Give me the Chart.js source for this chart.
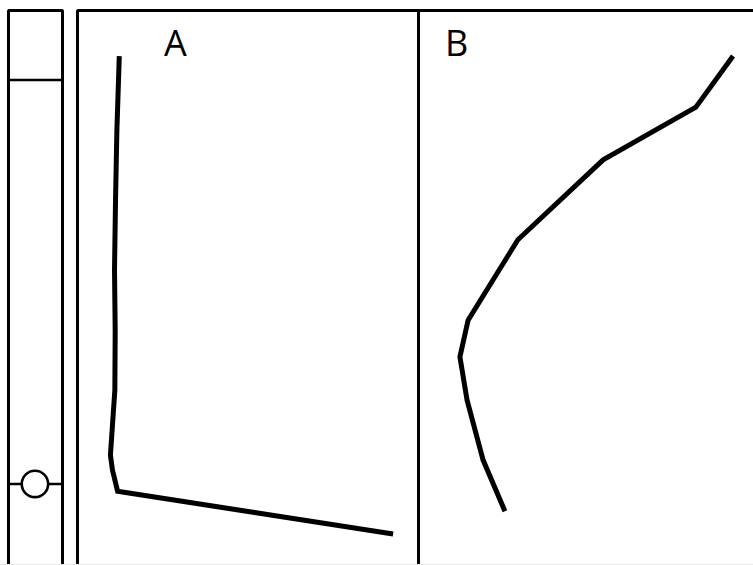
<!DOCTYPE html>
<html>
<head>
<meta charset="utf-8">
<script src="https://cdn.jsdelivr.net/npm/chart.js@4"></script>
<style>
  html, body { margin: 0; padding: 0; background: #fff; width: 753px; height: 565px; overflow: hidden; }
  .abs { position: absolute; }
  .frame { position: absolute; box-sizing: border-box; border: 3px solid #000; border-bottom: none; border-radius: 3px 3px 0 0; }
  .lbl { position: absolute; font-family: "Open Sans", sans-serif; font-size: 36px; line-height: 36px; color: #000; }
  canvas { position: absolute; }
</style>
</head>
<body>
<div class="frame" style="left:7px; top:9px; width:57px; height:560px;"></div>
<div class="frame" style="left:76px; top:9px; width:700px; height:560px;"></div>
<div class="abs" style="left:417px; top:9px; width:3px; height:560px; background:#000;"></div>
<div class="abs" style="left:0; top:564px; width:753px; height:1px; background:#e8e8e8;"></div>
<div class="lbl" style="left:164px; top:25px;">A</div>
<div class="lbl" style="left:445px; top:25px;">B</div>

<canvas id="cL" width="55" height="555" style="left:8px; top:10px;"></canvas>
<canvas id="cA" width="341" height="555" style="left:77px; top:10px;"></canvas>
<canvas id="cB" width="341" height="555" style="left:419px; top:10px;"></canvas>

<script>
// ---- data (x in panel units 0..100, depth in units 0..100 from top) ----
const waterTableDepth = 12.6;
const sensorDepth = 85.4;
const sensorX = 49;

const profileA_x     = [12.4, 11.7, 11.3, 11.0, 11.2, 11.1, 10.3, 9.8, 10.4, 11.9, 92.7];
const profileA_depth = [8.3, 21.6, 34.2, 46.8, 57.7, 68.5, 75.7, 80.2, 82.9, 86.7, 94.4];

const profileB_x     = [92.1, 81.2, 54.0, 29.0, 14.4, 12.0, 14.1, 18.8, 25.2];
const profileB_depth = [8.3, 17.5, 27.0, 41.4, 55.9, 62.5, 70.3, 81.1, 90.3];

const panelLabels = ['A', 'B'];

function pts(xs, ds) { return xs.map((x, i) => ({ x: x, y: ds[i] })); }

function scales() {
  return {
    x: { type: 'linear', min: 0, max: 100, display: false },
    y: { type: 'linear', min: 0, max: 100, reverse: true, display: false }
  };
}

const common = {
  responsive: false,
  animation: false,
  devicePixelRatio: 1,
  layout: { padding: 0, autoPadding: false },
  plugins: { legend: { display: false }, tooltip: { enabled: false } },
  events: []
};

function lineDs(data, width) {
  return {
    type: 'line', data: data, showLine: true, borderColor: '#000', borderWidth: width,
    pointRadius: 0, fill: false, tension: 0, clip: false,
    borderCapStyle: 'butt', borderJoinStyle: 'miter'
  };
}

// Left column panel
new Chart(document.getElementById('cL'), {
  type: 'scatter',
  data: {
    datasets: [
      { type: 'scatter', data: [{ x: sensorX, y: sensorDepth }], pointRadius: 13.2, pointBorderWidth: 2.6,
        pointBackgroundColor: '#fff', pointBorderColor: '#000', clip: false },
      lineDs([{ x: 0, y: sensorDepth }, { x: 100, y: sensorDepth }], 2.6),
      lineDs([{ x: 0, y: waterTableDepth }, { x: 100, y: waterTableDepth }], 2.6)
    ]
  },
  options: Object.assign({}, common, { scales: scales() })
});

// Panel A
new Chart(document.getElementById('cA'), {
  type: 'scatter',
  data: { datasets: [ lineDs(pts(profileA_x, profileA_depth), 5) ] },
  options: Object.assign({}, common, { scales: scales() })
});

// Panel B
new Chart(document.getElementById('cB'), {
  type: 'scatter',
  data: { datasets: [ lineDs(pts(profileB_x, profileB_depth), 5) ] },
  options: Object.assign({}, common, { scales: scales() })
});
</script>
</body>
</html>
